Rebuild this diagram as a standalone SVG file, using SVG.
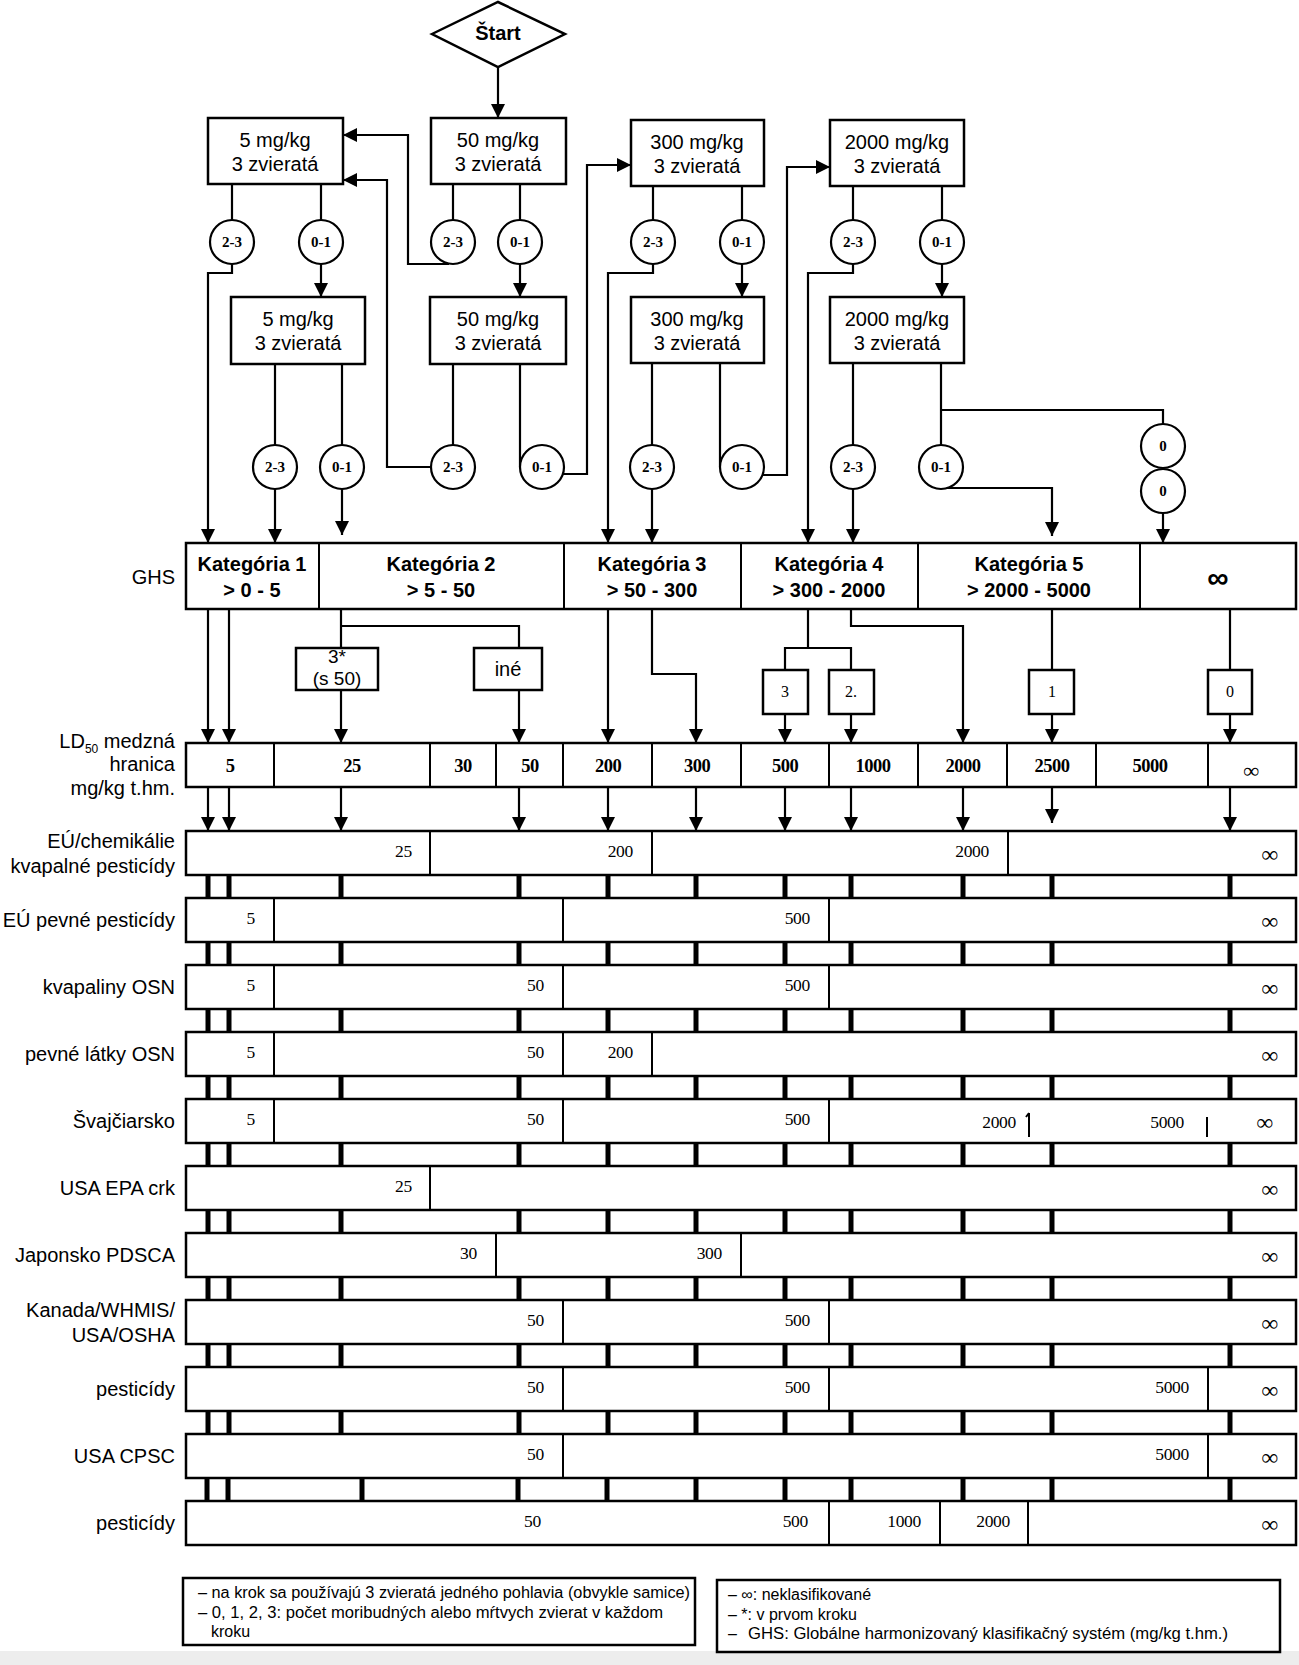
<svg xmlns="http://www.w3.org/2000/svg" width="1299" height="1665" viewBox="0 0 1299 1665">
<defs>
<marker id="ah" viewBox="0 0 14 14" refX="14" refY="7" markerWidth="14" markerHeight="14" markerUnits="userSpaceOnUse" orient="auto"><path d="M0,0 L14,7 L0,14 z" fill="#000"/></marker>
<style>
.bx{fill:#fff;stroke:#000;stroke-width:2.5}
.c{fill:none;stroke:#000;stroke-width:2.2}
.a{fill:none;stroke:#000;stroke-width:2.2;marker-end:url(#ah)}
.tk{fill:none;stroke:#000;stroke-width:5}
.dv{fill:none;stroke:#000;stroke-width:2}
.ci{fill:#fff;stroke:#000;stroke-width:2.2}
.s{font-family:"Liberation Sans",Arial,sans-serif;fill:#000}
.f{font-family:"Liberation Serif","Times New Roman",serif;fill:#000}
.m{text-anchor:middle}
.e{text-anchor:end}
.t20{font-size:20px}
.cl{font-family:"Liberation Serif","Times New Roman",serif;font-size:15px;font-weight:bold;text-anchor:middle}
.ld{font-family:"Liberation Serif","Times New Roman",serif;font-size:18.5px;font-weight:bold;text-anchor:middle;letter-spacing:-0.5px}
.rn{font-family:"Liberation Serif","Times New Roman",serif;font-size:17.5px;text-anchor:end;letter-spacing:-0.3px}
.inf{font-family:"Liberation Serif","Times New Roman",serif;font-size:23px;font-weight:bold;text-anchor:end}
.lg{font-family:"Liberation Sans",Arial,sans-serif;font-size:16px}
</style>
</defs>
<rect x="0" y="0" width="1299" height="1665" fill="#fff"/>
<rect x="0" y="1651" width="1299" height="14" fill="#ededed"/>

<g id="connectors">
<path class="a" d="M498,67 V118"/>
<path class="c" d="M232,184 V221 M321,184 V221 M453,184 V221 M520,184 V221 M653,186 V221 M742,186 V221 M853,186 V221 M942,186 V221"/>
<path class="a" d="M232,264 V273 H208 V543"/>
<path class="a" d="M321,264 V297"/>
<path class="a" d="M449,264 H408 V135 H343"/>
<path class="a" d="M520,264 V297"/>
<path class="a" d="M653,264 V273 H608 V543"/>
<path class="a" d="M742,264 V297"/>
<path class="a" d="M853,264 V273 H808 V543"/>
<path class="a" d="M942,264 V297"/>
<path class="c" d="M275,364 V445 M342,364 V445 M453,364 V445 M520,364 V467 M652,363 V445 M720,363 V467 M853,363 V445 M941,363 V445 M941,410 H1163 V424"/>
<path class="a" d="M275,489 V543"/>
<path class="a" d="M342,489 V535"/>
<path class="a" d="M431,467 H387 V180 H343"/>
<path class="a" d="M563,474 H587 V165 H631"/>
<path class="a" d="M652,489 V543"/>
<path class="a" d="M763,475 H787 V167 H830"/>
<path class="a" d="M853,489 V543"/>
<path class="a" d="M946,488 H1052 V536"/>
<path class="a" d="M1163,513 V543"/>

<path class="a" d="M208,609 V743"/>
<path class="a" d="M229,609 V743"/>
<path class="c" d="M341,609 V648 M341,626 H519 V648"/>
<path class="a" d="M341,690 V743"/>
<path class="a" d="M519,690 V743"/>
<path class="a" d="M608,609 V743"/>
<path class="a" d="M652,609 V674 H696 V743"/>
<path class="c" d="M808,609 V648 M785,670 V648 H851 V670"/>
<path class="a" d="M785,714 V743"/>
<path class="a" d="M851,714 V743"/>
<path class="a" d="M851,609 V626 H963 V743"/>
<path class="c" d="M1052,609 V670 M1230,609 V670"/>
<path class="a" d="M1052,714 V743"/>
<path class="a" d="M1230,714 V743"/>

<path class="a" d="M208,787 V831"/>
<path class="a" d="M229,787 V831"/>
<path class="a" d="M341,787 V831"/>
<path class="a" d="M519,787 V831"/>
<path class="a" d="M608,787 V831"/>
<path class="a" d="M696,787 V831"/>
<path class="a" d="M785,787 V831"/>
<path class="a" d="M851,787 V831"/>
<path class="a" d="M963,787 V831"/>
<path class="a" d="M1052,787 V823"/>
<path class="a" d="M1230,787 V831"/>

<path class="tk" d="M208,875 V898 M229,875 V898 M341,875 V898 M519,875 V898 M608,875 V898 M696,875 V898 M785,875 V898 M851,875 V898 M963,875 V898 M1052,875 V898 M1230,875 V898"/>
<path class="tk" d="M208,942 V965 M229,942 V965 M341,942 V965 M519,942 V965 M608,942 V965 M696,942 V965 M785,942 V965 M851,942 V965 M963,942 V965 M1052,942 V965 M1230,942 V965"/>
<path class="tk" d="M208,1009 V1032 M229,1009 V1032 M341,1009 V1032 M519,1009 V1032 M608,1009 V1032 M696,1009 V1032 M785,1009 V1032 M851,1009 V1032 M963,1009 V1032 M1052,1009 V1032 M1230,1009 V1032"/>
<path class="tk" d="M208,1076 V1099 M229,1076 V1099 M341,1076 V1099 M519,1076 V1099 M608,1076 V1099 M696,1076 V1099 M785,1076 V1099 M851,1076 V1099 M963,1076 V1099 M1052,1076 V1099 M1230,1076 V1099"/>
<path class="tk" d="M208,1143 V1166 M229,1143 V1166 M341,1143 V1166 M519,1143 V1166 M608,1143 V1166 M696,1143 V1166 M785,1143 V1166 M851,1143 V1166 M963,1143 V1166 M1052,1143 V1166 M1230,1143 V1166"/>
<path class="tk" d="M208,1210 V1233 M229,1210 V1233 M341,1210 V1233 M519,1210 V1233 M608,1210 V1233 M696,1210 V1233 M785,1210 V1233 M851,1210 V1233 M963,1210 V1233 M1052,1210 V1233 M1230,1210 V1233"/>
<path class="tk" d="M208,1277 V1300 M229,1277 V1300 M341,1277 V1300 M519,1277 V1300 M608,1277 V1300 M696,1277 V1300 M785,1277 V1300 M851,1277 V1300 M963,1277 V1300 M1052,1277 V1300 M1230,1277 V1300"/>
<path class="tk" d="M208,1344 V1367 M229,1344 V1367 M341,1344 V1367 M519,1344 V1367 M608,1344 V1367 M696,1344 V1367 M785,1344 V1367 M851,1344 V1367 M963,1344 V1367 M1052,1344 V1367 M1230,1344 V1367"/>
<path class="tk" d="M208,1411 V1434 M229,1411 V1434 M341,1411 V1434 M519,1411 V1434 M608,1411 V1434 M696,1411 V1434 M785,1411 V1434 M851,1411 V1434 M963,1411 V1434 M1052,1411 V1434 M1230,1411 V1434"/>
<path class="tk" d="M207,1478 V1501 M228,1478 V1501 M362,1478 V1501 M518,1478 V1501 M607,1478 V1501 M696,1478 V1501 M785,1478 V1501 M851,1478 V1501 M963,1478 V1501 M1052,1478 V1501 M1230,1478 V1501"/>
</g>

<g id="start"><polygon class="bx" points="432,34 498,2 565,34 498,67"/><text class="s m" x="498" y="40" font-size="20" font-weight="bold">Štart</text></g>

<g id="box-5-1"><rect class="bx" x="208" y="118" width="135" height="66"/><text class="s m t20" x="275" y="147">5 mg/kg</text><text class="s m t20" x="275" y="171">3 zvieratá</text></g>
<g id="box-50-1"><rect class="bx" x="431" y="118" width="135" height="66"/><text class="s m t20" x="498" y="147">50 mg/kg</text><text class="s m t20" x="498" y="171">3 zvieratá</text></g>
<g id="box-300-1"><rect class="bx" x="631" y="120" width="133" height="66"/><text class="s m t20" x="697" y="149">300 mg/kg</text><text class="s m t20" x="697" y="173">3 zvieratá</text></g>
<g id="box-2000-1"><rect class="bx" x="830" y="120" width="134" height="66"/><text class="s m t20" x="897" y="149">2000 mg/kg</text><text class="s m t20" x="897" y="173">3 zvieratá</text></g>

<g id="box-5-2"><rect class="bx" x="231" y="297" width="134" height="67"/><text class="s m t20" x="298" y="326">5 mg/kg</text><text class="s m t20" x="298" y="350">3 zvieratá</text></g>
<g id="box-50-2"><rect class="bx" x="430" y="297" width="136" height="67"/><text class="s m t20" x="498" y="326">50 mg/kg</text><text class="s m t20" x="498" y="350">3 zvieratá</text></g>
<g id="box-300-2"><rect class="bx" x="631" y="297" width="133" height="66"/><text class="s m t20" x="697" y="326">300 mg/kg</text><text class="s m t20" x="697" y="350">3 zvieratá</text></g>
<g id="box-2000-2"><rect class="bx" x="830" y="297" width="134" height="66"/><text class="s m t20" x="897" y="326">2000 mg/kg</text><text class="s m t20" x="897" y="350">3 zvieratá</text></g>

<g id="c-a1-23"><circle class="ci" cx="232" cy="242" r="22"/><text class="cl" x="232" y="247">2-3</text></g>
<g id="c-a1-01"><circle class="ci" cx="321" cy="242" r="22"/><text class="cl" x="321" y="247">0-1</text></g>
<g id="c-b1-23"><circle class="ci" cx="453" cy="242" r="22"/><text class="cl" x="453" y="247">2-3</text></g>
<g id="c-b1-01"><circle class="ci" cx="520" cy="242" r="22"/><text class="cl" x="520" y="247">0-1</text></g>
<g id="c-c1-23"><circle class="ci" cx="653" cy="242" r="22"/><text class="cl" x="653" y="247">2-3</text></g>
<g id="c-c1-01"><circle class="ci" cx="742" cy="242" r="22"/><text class="cl" x="742" y="247">0-1</text></g>
<g id="c-d1-23"><circle class="ci" cx="853" cy="242" r="22"/><text class="cl" x="853" y="247">2-3</text></g>
<g id="c-d1-01"><circle class="ci" cx="942" cy="242" r="22"/><text class="cl" x="942" y="247">0-1</text></g>

<g id="c-a2-23"><circle class="ci" cx="275" cy="467" r="22"/><text class="cl" x="275" y="472">2-3</text></g>
<g id="c-a2-01"><circle class="ci" cx="342" cy="467" r="22"/><text class="cl" x="342" y="472">0-1</text></g>
<g id="c-b2-23"><circle class="ci" cx="453" cy="467" r="22"/><text class="cl" x="453" y="472">2-3</text></g>
<g id="c-b2-01"><circle class="ci" cx="542" cy="467" r="22"/><text class="cl" x="542" y="472">0-1</text></g>
<g id="c-c2-23"><circle class="ci" cx="652" cy="467" r="22"/><text class="cl" x="652" y="472">2-3</text></g>
<g id="c-c2-01"><circle class="ci" cx="742" cy="467" r="22"/><text class="cl" x="742" y="472">0-1</text></g>
<g id="c-d2-23"><circle class="ci" cx="853" cy="467" r="22"/><text class="cl" x="853" y="472">2-3</text></g>
<g id="c-d2-01"><circle class="ci" cx="941" cy="467" r="22"/><text class="cl" x="941" y="472">0-1</text></g>
<g id="c-0a"><circle class="ci" cx="1163" cy="446" r="22"/><text class="cl" x="1163" y="451">0</text></g>
<g id="c-0b"><circle class="ci" cx="1163" cy="491" r="22"/><text class="cl" x="1163" y="496">0</text></g>

<g id="ghs">
<text class="s e t20" x="175" y="584">GHS</text>
<rect class="bx" x="186" y="543" width="1110" height="66"/>
<path class="dv" d="M319,543 V609 M564,543 V609 M741,543 V609 M918,543 V609 M1140,543 V609"/>
<g class="s m t20" font-weight="bold">
<text x="252" y="571">Kategória 1</text><text x="252" y="597">&gt; 0 - 5</text>
<text x="441" y="571">Kategória 2</text><text x="441" y="597">&gt; 5 - 50</text>
<text x="652" y="571">Kategória 3</text><text x="652" y="597">&gt; 50 - 300</text>
<text x="829" y="571">Kategória 4</text><text x="829" y="597">&gt; 300 - 2000</text>
<text x="1029" y="571">Kategória 5</text><text x="1029" y="597">&gt; 2000 - 5000</text>
<text x="1218" y="588" font-size="30">∞</text>
</g>
</g>

<g id="b-3s"><rect class="bx" x="296" y="648" width="82" height="42"/><text class="s m" font-size="19" x="337" y="663">3*</text><text class="s m" font-size="19" x="337" y="685">(s 50)</text></g>
<g id="b-ine"><rect class="bx" x="474" y="648" width="68" height="42"/><text class="s m t20" x="508" y="676">iné</text></g>
<g id="b-3"><rect class="bx" x="763" y="670" width="45" height="44"/><text class="f m" font-size="16" x="785" y="697">3</text></g>
<g id="b-2"><rect class="bx" x="829" y="670" width="45" height="44"/><text class="f m" font-size="16" x="851" y="697">2.</text></g>
<g id="b-1"><rect class="bx" x="1029" y="670" width="45" height="44"/><text class="f m" font-size="16" x="1052" y="697">1</text></g>
<g id="b-0"><rect class="bx" x="1208" y="670" width="44" height="44"/><text class="f m" font-size="16" x="1230" y="697">0</text></g>

<g id="ld50">
<text class="s e t20" x="175" y="748">LD<tspan font-size="12" dy="5">50</tspan><tspan dy="-5"> medzná</tspan></text>
<text class="s e t20" x="175" y="771">hranica</text>
<text class="s e t20" x="175" y="795">mg/kg t.hm.</text>
<rect class="bx" x="186" y="743" width="1110" height="44"/>
<path class="dv" d="M274,743 V787 M430,743 V787 M496,743 V787 M563,743 V787 M652,743 V787 M741,743 V787 M829,743 V787 M918,743 V787 M1007,743 V787 M1096,743 V787 M1208,743 V787"/>
<text class="ld" x="230" y="772">5</text><text class="ld" x="352" y="772">25</text><text class="ld" x="463" y="772">30</text><text class="ld" x="530" y="772">50</text><text class="ld" x="608" y="772">200</text><text class="ld" x="697" y="772">300</text><text class="ld" x="785" y="772">500</text><text class="ld" x="873" y="772">1000</text><text class="ld" x="963" y="772">2000</text><text class="ld" x="1052" y="772">2500</text><text class="ld" x="1150" y="772">5000</text><text class="f m" font-size="22" font-weight="bold" x="1251" y="778">∞</text>
</g>

<g id="row-eu-chem">
<text class="s e t20" x="175" y="848">EÚ/chemikálie</text><text class="s e t20" x="175" y="873">kvapalné pesticídy</text>
<rect class="bx" x="186" y="831" width="1110" height="44"/>
<path class="dv" d="M430,831 V875 M652,831 V875 M1008,831 V875"/>
<text class="rn" x="412" y="857">25</text><text class="rn" x="633" y="857">200</text><text class="rn" x="989" y="857">2000</text><text class="inf" x="1278" y="862">∞</text>
</g>
<g id="row-eu-pevne">
<text class="s e t20" x="175" y="927">EÚ pevné pesticídy</text>
<rect class="bx" x="186" y="898" width="1110" height="44"/>
<path class="dv" d="M274,898 V942 M563,898 V942 M829,898 V942"/>
<text class="rn" x="255" y="924">5</text><text class="rn" x="810" y="924">500</text><text class="inf" x="1278" y="929">∞</text>
</g>
<g id="row-kvap-osn">
<text class="s e t20" x="175" y="994">kvapaliny OSN</text>
<rect class="bx" x="186" y="965" width="1110" height="44"/>
<path class="dv" d="M274,965 V1009 M563,965 V1009 M829,965 V1009"/>
<text class="rn" x="255" y="991">5</text><text class="rn" x="544" y="991">50</text><text class="rn" x="810" y="991">500</text><text class="inf" x="1278" y="996">∞</text>
</g>
<g id="row-pevne-osn">
<text class="s e t20" x="175" y="1061">pevné látky OSN</text>
<rect class="bx" x="186" y="1032" width="1110" height="44"/>
<path class="dv" d="M274,1032 V1076 M563,1032 V1076 M652,1032 V1076"/>
<text class="rn" x="255" y="1058">5</text><text class="rn" x="544" y="1058">50</text><text class="rn" x="633" y="1058">200</text><text class="inf" x="1278" y="1063">∞</text>
</g>
<g id="row-svajc">
<text class="s e t20" x="175" y="1128">Švajčiarsko</text>
<rect class="bx" x="186" y="1099" width="1110" height="44"/>
<path class="dv" d="M274,1099 V1143 M563,1099 V1143 M829,1099 V1143 M1029,1113 V1137 M1026,1117 L1029,1113 M1207,1117 V1137"/>
<text class="rn" x="255" y="1125">5</text><text class="rn" x="544" y="1125">50</text><text class="rn" x="810" y="1125">500</text><text class="rn" x="1016" y="1128">2000</text><text class="rn" x="1184" y="1128">5000</text><text class="inf" x="1273" y="1130">∞</text>
</g>
<g id="row-usa-epa">
<text class="s e t20" x="175" y="1195">USA EPA crk</text>
<rect class="bx" x="186" y="1166" width="1110" height="44"/>
<path class="dv" d="M430,1166 V1210"/>
<text class="rn" x="412" y="1192">25</text><text class="inf" x="1278" y="1197">∞</text>
</g>
<g id="row-japonsko">
<text class="s e t20" x="175" y="1262">Japonsko PDSCA</text>
<rect class="bx" x="186" y="1233" width="1110" height="44"/>
<path class="dv" d="M496,1233 V1277 M741,1233 V1277"/>
<text class="rn" x="477" y="1259">30</text><text class="rn" x="722" y="1259">300</text><text class="inf" x="1278" y="1264">∞</text>
</g>
<g id="row-kanada">
<text class="s e t20" x="175" y="1317">Kanada/WHMIS/</text><text class="s e t20" x="175" y="1342">USA/OSHA</text>
<rect class="bx" x="186" y="1300" width="1110" height="44"/>
<path class="dv" d="M563,1300 V1344 M829,1300 V1344"/>
<text class="rn" x="544" y="1326">50</text><text class="rn" x="810" y="1326">500</text><text class="inf" x="1278" y="1331">∞</text>
</g>
<g id="row-pest1">
<text class="s e t20" x="175" y="1396">pesticídy</text>
<rect class="bx" x="186" y="1367" width="1110" height="44"/>
<path class="dv" d="M563,1367 V1411 M829,1367 V1411 M1208,1367 V1411"/>
<text class="rn" x="544" y="1393">50</text><text class="rn" x="810" y="1393">500</text><text class="rn" x="1189" y="1393">5000</text><text class="inf" x="1278" y="1398">∞</text>
</g>
<g id="row-cpsc">
<text class="s e t20" x="175" y="1463">USA CPSC</text>
<rect class="bx" x="186" y="1434" width="1110" height="44"/>
<path class="dv" d="M563,1434 V1478 M1208,1434 V1478"/>
<text class="rn" x="544" y="1460">50</text><text class="rn" x="1189" y="1460">5000</text><text class="inf" x="1278" y="1465">∞</text>
</g>
<g id="row-pest2">
<text class="s e t20" x="175" y="1530">pesticídy</text>
<rect class="bx" x="186" y="1501" width="1110" height="44"/>
<path class="dv" d="M829,1501 V1545 M940,1501 V1545 M1028,1501 V1545"/>
<text class="rn" x="541" y="1527">50</text><text class="rn" x="808" y="1527">500</text><text class="rn" x="921" y="1527">1000</text><text class="rn" x="1010" y="1527">2000</text><text class="inf" x="1278" y="1532">∞</text>
</g>

<g id="legend-1">
<rect class="bx" x="183" y="1578" width="512" height="67"/>
<text class="lg" x="198" y="1598" textLength="492" lengthAdjust="spacingAndGlyphs">– na krok sa používajú 3 zvieratá jedného pohlavia (obvykle samice)</text>
<text class="lg" x="198" y="1618" textLength="465" lengthAdjust="spacingAndGlyphs">– 0, 1, 2, 3: počet moribudných alebo mŕtvych zvierat v každom</text>
<text class="lg" x="211" y="1637">kroku</text>
</g>
<g id="legend-2">
<rect class="bx" x="717" y="1580" width="563" height="72"/>
<text class="lg" x="728" y="1600">– ∞: neklasifikované</text>
<text class="lg" x="728" y="1620">– *: v prvom kroku</text>
<text class="lg" x="728" y="1639">–<tspan x="748" textLength="480" lengthAdjust="spacingAndGlyphs">GHS: Globálne harmonizovaný klasifikačný systém (mg/kg t.hm.)</tspan></text>
</g>
</svg>
